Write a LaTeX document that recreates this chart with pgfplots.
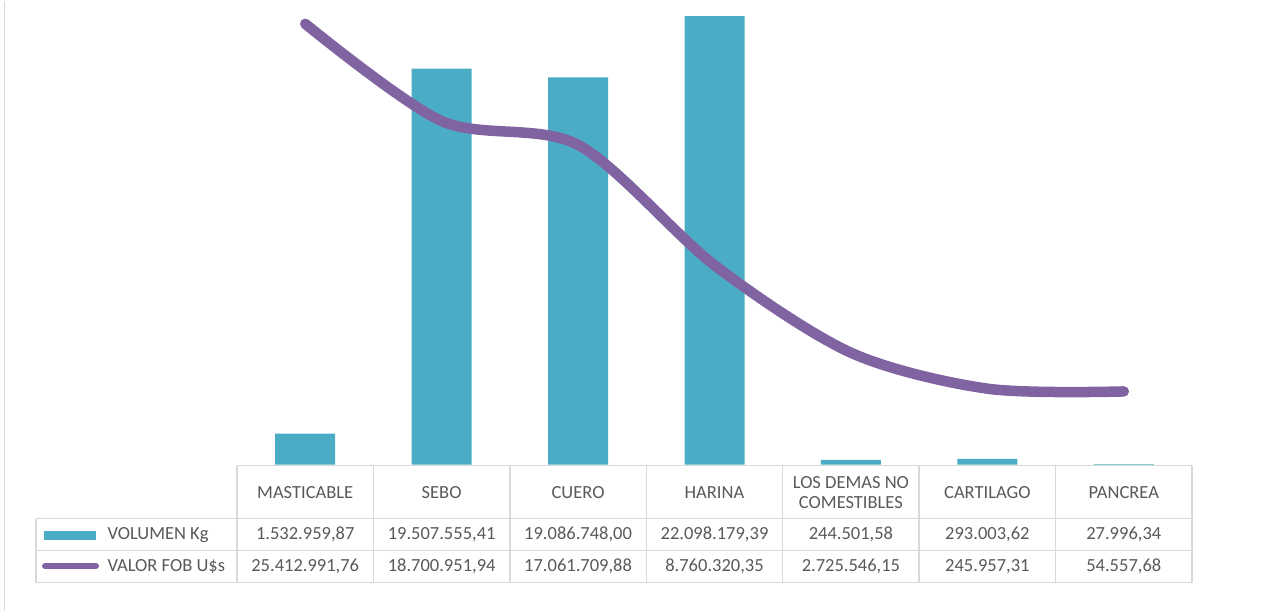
\documentclass[border=0pt]{standalone}
\usepackage{pgfplots}
\pgfplotsset{compat=1.18}
\usepackage{fontspec}
\setmainfont{Carlito}
\definecolor{barc}{HTML}{4BACC6}
\definecolor{linec}{HTML}{8064A2}
\definecolor{txt}{HTML}{595959}
\definecolor{gridc}{HTML}{D9D9D9}
\begin{document}
\begin{tikzpicture}[x=1bp,y=1bp]
\path (0,0) rectangle (1273,610);
\draw[gridc, line width=1.5bp] (4.5,0) -- (4.5,610);
\begin{axis}[at={(237bp,146bp)}, anchor=south west, width=955bp, height=464bp,
  scale only axis, xmin=-0.5, xmax=6.5, ymin=0, ymax=22.857e6, hide axis]
\addplot[ybar, bar width=60bp, fill=barc, draw=none] coordinates {
(0,1532959.87) (1,19507555.41) (2,19086748.00) (3,22098179.39) (4,244501.58) (5,293003.62) (6,27996.34)};
\end{axis}
\begin{axis}[at={(237bp,146bp)}, anchor=south west, width=955bp, height=464bp,
  scale only axis, xmin=-0.5, xmax=6.5, ymin=-5e6, ymax=27e6, hide axis]
\addplot[linec, line width=10.5bp, smooth, line cap=round, line join=round] coordinates {
(0,25412991.76) (1,18700951.94) (2,17061709.88) (3,8760320.35) (4,2725546.15) (5,245957.31) (6,54557.68)};
\end{axis}
% data table
\begin{scope}[gridc, line width=1.5bp]
\draw (237,145) -- (1192,145);
\draw (36,92) -- (1192,92);
\draw (36,60) -- (1192,60);
\draw (36,28) -- (1192,28);
\draw (36,92) -- (36,28);
\foreach \x in {237,373.4,509.9,646.3,782.7,919.1,1055.6,1192} {\draw (\x,145) -- (\x,28);}
\end{scope}
\fill[barc] (44,71) rectangle (96,80);
\draw[linec, line width=6bp, line cap=round] (45,44.5) -- (96,44.5);
\begin{scope}[every node/.style={text=txt, font=\fontsize{18.5bp}{20bp}\selectfont, align=center}]
\node[anchor=west] at (104,76) {VOLUMEN Kg};
\node[anchor=west] at (104,44) {VALOR FOB U\$s};
\foreach \i/\h/\a/\b in {0/MASTICABLE/1.532.959{,}87/25.412.991{,}76,
  1/SEBO/19.507.555{,}41/18.700.951{,}94,
  2/CUERO/19.086.748{,}00/17.061.709{,}88,
  3/HARINA/22.098.179{,}39/8.760.320{,}35,
  4/{LOS DEMAS NO\\COMESTIBLES}/244.501{,}58/2.725.546{,}15,
  5/CARTILAGO/293.003{,}62/245.957{,}31,
  6/PANCREA/27.996{,}34/54.557{,}68} {
  \pgfmathsetmacro{\cx}{305.2+136.43*\i}
  \node at (\cx,118) {\h};
  \node at (\cx,76) {\a};
  \node at (\cx,44) {\b};
}
\end{scope}
\end{tikzpicture}
\end{document}
